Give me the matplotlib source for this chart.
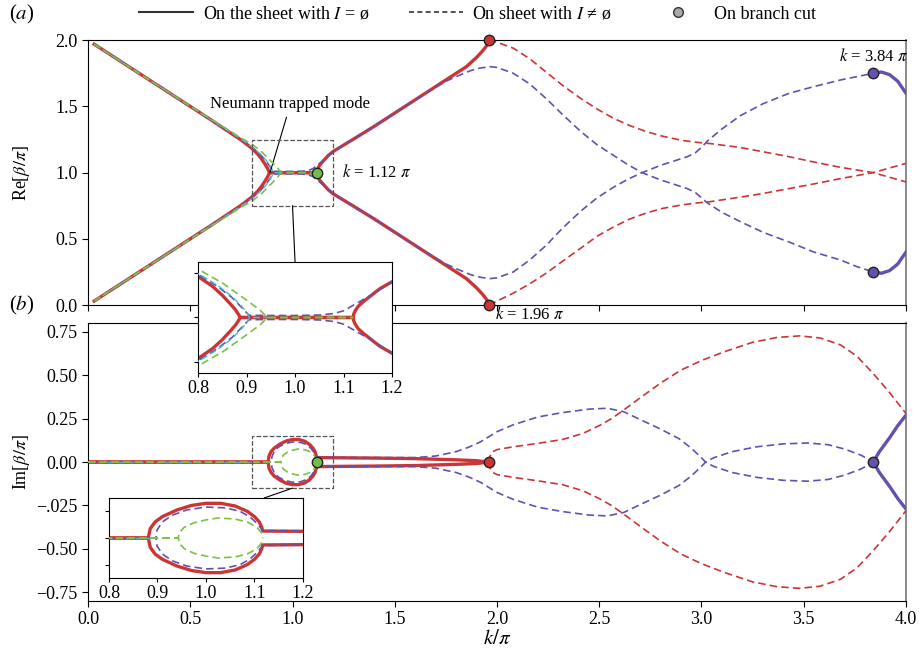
import numpy as np
import matplotlib
matplotlib.use("Agg")
import matplotlib.pyplot as plt
from matplotlib.lines import Line2D
from matplotlib.patches import Rectangle, ConnectionPatch

plt.rcParams['font.family'] = ['Liberation Serif', 'DejaVu Serif']
plt.rcParams['mathtext.fontset'] = 'stix'
plt.rcParams['font.size'] = 13

RED = '#cc3535'
PUR = '#6550ad'
GRN = '#7cc142'
CYN = '#3cbfd6'

# ---------------- (a) Re[beta/pi] ----------------
# solid red, sheet I = empty (upper / lower branch)
k_red_a = [0.03, 0.3, 0.6, 0.75, 0.8, 0.83, 0.85, 0.865, 0.877, 0.884, 0.887,
           1.12, 1.121, 1.124, 1.13, 1.14, 1.154, 1.175, 1.2, 1.3, 1.4, 1.5,
           1.6, 1.7, 1.78, 1.85, 1.9, 1.93, 1.95, 1.96]
re_red_up = [1.97, 1.70, 1.40, 1.245, 1.185, 1.14, 1.10, 1.065, 1.035, 1.012, 1.0,
             1.0, 1.015, 1.03, 1.05, 1.07, 1.094, 1.13, 1.161, 1.255, 1.35, 1.45,
             1.55, 1.65, 1.73, 1.80, 1.87, 1.92, 1.96, 2.0]
re_red_lo = [0.03, 0.30, 0.60, 0.755, 0.815, 0.86, 0.90, 0.935, 0.965, 0.988, 1.0,
             1.0, 0.985, 0.97, 0.95, 0.93, 0.906, 0.87, 0.839, 0.745, 0.65, 0.55,
             0.45, 0.35, 0.27, 0.20, 0.13, 0.08, 0.04, 0.0]

# dashed purple
k_pur_a = [0.03, 0.3, 0.6, 0.75, 0.8, 0.84, 0.87, 0.89, 0.9, 0.905, 0.95, 1.0,
           1.05, 1.08, 1.1, 1.12, 1.14, 1.16, 1.2, 1.3, 1.4, 1.5, 1.6, 1.7, 1.75,
           1.8, 1.87, 1.917, 1.966, 2.0, 2.08, 2.16, 2.24, 2.32, 2.41, 2.49, 2.57,
           2.64, 2.71, 2.8, 2.88, 2.93, 2.97, 3.0, 3.03, 3.1, 3.19, 3.3, 3.43,
           3.55, 3.68, 3.76, 3.84]
re_pur_up = [1.97, 1.70, 1.40, 1.25, 1.195, 1.14, 1.09, 1.045, 1.022, 1.01, 1.009,
             1.009, 1.011, 1.018, 1.03, 1.055, 1.08, 1.105, 1.16, 1.255, 1.35, 1.45,
             1.55, 1.645, 1.69, 1.725, 1.77, 1.79, 1.80, 1.795, 1.75, 1.67, 1.56,
             1.44, 1.31, 1.21, 1.13, 1.06, 1.0, 0.945, 0.905, 0.88, 0.85, 0.81,
             0.77, 0.70, 0.63, 0.55, 0.475, 0.40, 0.34, 0.29, 0.25]
re_pur_lo = [0.03, 0.30, 0.60, 0.75, 0.805, 0.86, 0.91, 0.955, 0.978, 0.99, 0.991,
             0.991, 0.989, 0.982, 0.97, 0.945, 0.92, 0.895, 0.84, 0.745, 0.65, 0.55,
             0.45, 0.355, 0.31, 0.275, 0.23, 0.21, 0.20, 0.205, 0.25, 0.34, 0.45,
             0.58, 0.71, 0.81, 0.89, 0.95, 1.0, 1.055, 1.095, 1.12, 1.15, 1.19,
             1.24, 1.33, 1.43, 1.52, 1.60, 1.65, 1.70, 1.725, 1.75]

# dashed cyan
k_cyn_a = [0.03, 0.3, 0.6, 0.75, 0.8, 0.84, 0.87, 0.89, 0.9, 0.906, 0.95]
re_cyn_up = [1.97, 1.70, 1.40, 1.252, 1.198, 1.145, 1.095, 1.05, 1.025, 1.0, 1.0]
re_cyn_lo = [0.03, 0.30, 0.60, 0.748, 0.802, 0.855, 0.905, 0.95, 0.975, 1.0, 1.0]

# dashed green
k_grn_a = [0.03, 0.3, 0.6, 0.75, 0.804, 0.852, 0.90, 0.928, 0.943, 1.0, 1.12]
re_grn_up = [1.97, 1.70, 1.405, 1.26, 1.213, 1.153, 1.078, 1.033, 1.0, 1.0, 1.0]
re_grn_lo = [0.03, 0.30, 0.595, 0.74, 0.787, 0.847, 0.922, 0.967, 1.0, 1.0, 1.0]

# dashed red beyond k = 1.96 pi
k_redd_a = [1.96, 2.0, 2.08, 2.16, 2.24, 2.32, 2.41, 2.49, 2.57, 2.65, 2.73, 2.81,
            2.90, 2.97, 3.04, 3.19, 3.31, 3.43, 3.55, 3.68, 3.84, 3.92, 4.0]
re_redd_up = [2.0, 1.985, 1.94, 1.86, 1.76, 1.66, 1.56, 1.48, 1.41, 1.355, 1.31,
              1.275, 1.245, 1.23, 1.22, 1.19, 1.155, 1.12, 1.08, 1.04, 1.0, 0.965, 0.93]
re_redd_lo = [0.0, 0.03, 0.09, 0.16, 0.24, 0.33, 0.43, 0.52, 0.59, 0.65, 0.695,
              0.73, 0.755, 0.77, 0.78, 0.815, 0.845, 0.88, 0.915, 0.955, 1.0, 1.035, 1.07]

# solid purple beyond k = 3.84 pi
k_purs_a = [3.84, 3.88, 3.92, 3.96, 4.0]
re_purs_up = [1.75, 1.76, 1.74, 1.69, 1.60]
re_purs_lo = [0.25, 0.24, 0.26, 0.31, 0.40]

# ---------------- (b) Im[beta/pi] ----------------
k_red_b = [0.0, 0.881, 0.885, 0.895, 0.91, 0.94, 0.97, 1.0, 1.03, 1.06, 1.085,
           1.1, 1.11, 1.115, 1.117, 1.2, 1.4, 1.6, 1.8, 1.9, 1.96]
im_red_up = [0.0, 0.0, 0.035, 0.06, 0.08, 0.105, 0.122, 0.13, 0.13, 0.12, 0.10,
             0.08, 0.06, 0.04, 0.026, 0.025, 0.023, 0.02, 0.013, 0.008, 0.0]
im_red_lo = [0.0, 0.0, -0.035, -0.06, -0.08, -0.105, -0.122, -0.13, -0.13, -0.12, -0.10,
             -0.08, -0.06, -0.04, -0.026, -0.025, -0.023, -0.02, -0.013, -0.008, 0.0]

k_pur_b = [0.0, 0.897, 0.899, 0.91, 0.93, 0.96, 1.0, 1.04, 1.07, 1.09, 1.105,
           1.114, 1.117, 1.2, 1.4, 1.6, 1.7, 1.8, 1.86, 1.917, 2.0, 2.08, 2.2,
           2.32, 2.45, 2.54, 2.62, 2.7, 2.8, 2.89, 2.95, 3.0, 3.02, 3.06, 3.15,
           3.27, 3.4, 3.52, 3.62, 3.7, 3.78, 3.84]
im_pur_up = [0.0, 0.0, 0.03, 0.06, 0.085, 0.105, 0.116, 0.113, 0.10, 0.08, 0.055,
             0.035, 0.028, 0.027, 0.026, 0.026, 0.035, 0.06, 0.085, 0.115, 0.175,
             0.215, 0.26, 0.285, 0.305, 0.31, 0.29, 0.245, 0.19, 0.135, 0.08, 0.025,
             0.0, -0.025, -0.06, -0.088, -0.105, -0.11, -0.10, -0.075, -0.04, 0.0]
im_pur_lo = [0.0, 0.0, -0.03, -0.06, -0.085, -0.105, -0.116, -0.113, -0.10, -0.08, -0.055,
             -0.035, -0.028, -0.027, -0.026, -0.026, -0.035, -0.06, -0.085, -0.115, -0.175,
             -0.215, -0.26, -0.285, -0.305, -0.31, -0.29, -0.245, -0.19, -0.135, -0.08, -0.025,
             0.0, 0.025, 0.06, 0.088, 0.105, 0.11, 0.10, 0.075, 0.04, 0.0]

k_cyn_b = [0.0, 0.9]
im_cyn = [0.0, 0.0]

k_grn_b = [0.0, 0.943, 0.945, 0.955, 0.975, 1.0, 1.025, 1.06, 1.085, 1.105, 1.114, 1.117]
im_grn_up = [0.0, 0.0, 0.02, 0.04, 0.057, 0.068, 0.075, 0.071, 0.06, 0.04, 0.02, 0.0]
im_grn_lo = [0.0, 0.0, -0.02, -0.04, -0.057, -0.068, -0.075, -0.071, -0.06, -0.04, -0.02, 0.0]

k_redd_b = [1.96, 1.963, 1.97, 1.98, 2.0, 2.08, 2.2, 2.32, 2.42, 2.5, 2.56, 2.62,
            2.7, 2.8, 2.9, 3.0, 3.11, 3.25, 3.37, 3.48, 3.58, 3.68, 3.76, 3.84,
            3.92, 4.0]
im_redd_up = [0.0, 0.025, 0.045, 0.06, 0.072, 0.088, 0.108, 0.13, 0.165, 0.21, 0.25,
              0.30, 0.37, 0.455, 0.53, 0.585, 0.635, 0.69, 0.718, 0.727, 0.715, 0.675,
              0.61, 0.51, 0.40, 0.28]
im_redd_lo = [0.0, -0.025, -0.045, -0.06, -0.072, -0.088, -0.108, -0.13, -0.165, -0.21, -0.25,
              -0.30, -0.37, -0.455, -0.53, -0.585, -0.635, -0.69, -0.718, -0.727, -0.715, -0.675,
              -0.61, -0.51, -0.40, -0.28]

k_purs_b = [3.84, 3.87, 3.92, 3.96, 4.0]
im_purs_up = [0.0, 0.06, 0.14, 0.21, 0.27]
im_purs_lo = [0.0, -0.06, -0.14, -0.21, -0.27]

# branch-cut points
k_dots_a = [1.12, 1.96, 1.96, 3.84, 3.84]
re_dots = [1.0, 2.0, 0.0, 1.75, 0.25]
k_dots_b = [1.12, 1.96, 3.84]
im_dots = [0.0, 0.0, 0.0]
dot_cols_a = ['#6fbf4a', RED, RED, PUR, PUR]
dot_cols_b = ['#6fbf4a', RED, PUR]

yt_b = [0.75, 0.5, 0.25, 0.0, -0.25, -0.5, -0.75]
yt_b_lab = ['0.75', '0.50', '0.25', '0.00', '\u2212.025', '\u22120.50', '\u22120.75']

DASH = (4.5, 2.5)


def draw_a(ax, dots=True):
    for y in (re_red_up, re_red_lo):
        ax.plot(k_red_a, y, color=RED, lw=2.4, zorder=2)
    for y in (re_pur_up, re_pur_lo):
        ax.plot(k_pur_a, y, color=PUR, lw=1.2, dashes=DASH, zorder=3)
    for y in (re_cyn_up, re_cyn_lo):
        ax.plot(k_cyn_a, y, color=CYN, lw=1.0, dashes=DASH, zorder=3)
    for y in (re_grn_up, re_grn_lo):
        ax.plot(k_grn_a, y, color=GRN, lw=1.2, dashes=DASH, zorder=4)
    for y in (re_redd_up, re_redd_lo):
        ax.plot(k_redd_a, y, color=RED, lw=1.2, dashes=DASH, zorder=3)
    for y in (re_purs_up, re_purs_lo):
        ax.plot(k_purs_a, y, color=PUR, lw=2.4, zorder=3)
    if dots:
        for x, y, c in zip(k_dots_a, re_dots, dot_cols_a):
            ax.plot(x, y, 'o', ms=7.5, mfc=c, mec='#222222', mew=1.0, zorder=6,
                    clip_on=False)


def draw_b(ax, dots=True):
    for y in (im_red_up, im_red_lo):
        ax.plot(k_red_b, y, color=RED, lw=2.4, zorder=2)
    for y in (im_pur_up, im_pur_lo):
        ax.plot(k_pur_b, y, color=PUR, lw=1.2, dashes=DASH, zorder=3)
    ax.plot(k_cyn_b, im_cyn, color=CYN, lw=1.0, dashes=DASH, zorder=3)
    for y in (im_grn_up, im_grn_lo):
        ax.plot(k_grn_b, y, color=GRN, lw=1.2, dashes=DASH, zorder=4)
    for y in (im_redd_up, im_redd_lo):
        ax.plot(k_redd_b, y, color=RED, lw=1.2, dashes=DASH, zorder=3)
    for y in (im_purs_up, im_purs_lo):
        ax.plot(k_purs_b, y, color=PUR, lw=2.4, zorder=3)
    if dots:
        for x, y, c in zip(k_dots_b, im_dots, dot_cols_b):
            ax.plot(x, y, 'o', ms=7.5, mfc=c, mec='#222222', mew=1.0, zorder=6)


fig = plt.figure(figsize=(9.19, 6.49), dpi=100)
ax_a = fig.add_axes([0.0958, 0.530, 0.890, 0.408])
ax_b = fig.add_axes([0.0958, 0.074, 0.890, 0.428])

draw_a(ax_a)
draw_b(ax_b)

for ax in (ax_a, ax_b):
    ax.set_xlim(0, 4)
    ax.set_xticks([0, 0.5, 1, 1.5, 2, 2.5, 3, 3.5, 4])
    ax.tick_params(direction='out', length=4, width=0.8, labelsize=13)
    ax.spines['right'].set_color('#8a8a8a')
    ax.spines['right'].set_linewidth(1.4)

ax_a.set_ylim(0, 2)
ax_a.set_yticks([0, 0.5, 1, 1.5, 2])
ax_a.set_yticklabels(['0.0', '0.5', '1.0', '1.5', '2.0'])
ax_a.tick_params(axis='x', labelbottom=False)
ax_a.set_ylabel(r'Re[$\beta/\pi$]', fontsize=13)
ax_a.yaxis.set_label_coords(-0.068, 0.5)

ax_b.set_ylim(-0.8, 0.8)
ax_b.set_yticks(yt_b)
ax_b.set_yticklabels(yt_b_lab)
ax_b.set_xticklabels(['0.0', '0.5', '1.0', '1.5', '2.0', '2.5', '3.0', '3.5', '4.0'])
ax_b.set_ylabel(r'Im[$\beta/\pi$]', fontsize=13)
ax_b.yaxis.set_label_coords(-0.068, 0.5)
ax_b.set_xlabel(r'$k/\pi$', fontsize=15)
ax_b.xaxis.set_label_coords(0.5, -0.105)

# zoom boxes
ax_a.add_patch(Rectangle((0.8, 0.75), 0.4, 0.5, fill=False, ls='--', lw=0.9,
                         ec='#555555', zorder=5))
ax_b.add_patch(Rectangle((0.8, -0.15), 0.4, 0.3, fill=False, ls='--', lw=0.9,
                         ec='#555555', zorder=5))

# annotations
ax_a.annotate('Neumann trapped mode', xy=(0.89, 1.0), xytext=(0.99, 1.52),
              ha='center', va='center', fontsize=12,
              arrowprops=dict(arrowstyle='-', color='k', lw=0.8, shrinkB=0))
ax_a.text(1.24, 1.0, r'$k$ = 1.12 $\pi$', ha='left', va='center', fontsize=12)
ax_a.text(1.99, -0.075, r'$k$ = 1.96 $\pi$', ha='left', va='center', fontsize=12,
          clip_on=False)
ax_a.text(3.84, 1.88, r'$k$ = 3.84 $\pi$', ha='center', va='center', fontsize=12)

# insets
ins_a = fig.add_axes([0.2155, 0.4253, 0.2111, 0.171])
draw_a(ins_a, dots=False)
ins_a.set_xlim(0.8, 1.2)
ins_a.set_ylim(0.75, 1.25)
ins_a.set_xticks([0.8, 0.9, 1.0, 1.1, 1.2])
ins_a.set_yticks([0.8, 1.0, 1.2])
ins_a.set_yticklabels([])

ins_b = fig.add_axes([0.1186, 0.1094, 0.2111, 0.1233])
draw_b(ins_b, dots=False)
ins_b.set_xlim(0.8, 1.2)
ins_b.set_ylim(-0.15, 0.15)
ins_b.set_xticks([0.8, 0.9, 1.0, 1.1, 1.2])
ins_b.set_yticks([-0.1, 0.0, 0.1])
ins_b.set_yticklabels([])

for ins in (ins_a, ins_b):
    ins.set_facecolor('white')
    ins.tick_params(direction='out', length=3, width=0.8, labelsize=13, pad=2)
    ins.set_xticklabels(['0.8', '0.9', '1.0', '1.1', '1.2'])

con_a = ConnectionPatch(xyA=(1.0, 0.75), coordsA=ax_a.transData,
                        xyB=(1.0, 1.25), coordsB=ins_a.transData, lw=0.8, color='k')
con_b = ConnectionPatch(xyA=(1.0, -0.15), coordsA=ax_b.transData,
                        xyB=(1.12, 0.15), coordsB=ins_b.transData, lw=0.8, color='k')
fig.add_artist(con_a)
fig.add_artist(con_b)

# legend
handles = [Line2D([], [], color='#333333', lw=1.5),
           Line2D([], [], color='#333333', lw=1.2, dashes=(3, 2)),
           Line2D([], [], ls='none', marker='o', ms=7, mfc='#aaaaaa', mec='#333333', mew=1.0)]
labels = [r'On the sheet with $I$ = ø', r'On sheet with $I$ ≠ ø', 'On branch cut']
fig.legend(handles, labels, loc='center', bbox_to_anchor=(0.52, 0.978), ncol=3,
           frameon=False, fontsize=13, handlelength=3, columnspacing=2.2, handletextpad=0.5)

fig.text(0.010, 0.978, r'($a$)', fontsize=15, va='center')
fig.text(0.010, 0.530, r'($b$)', fontsize=15, va='center')

fig.savefig('out.png', dpi=100)
